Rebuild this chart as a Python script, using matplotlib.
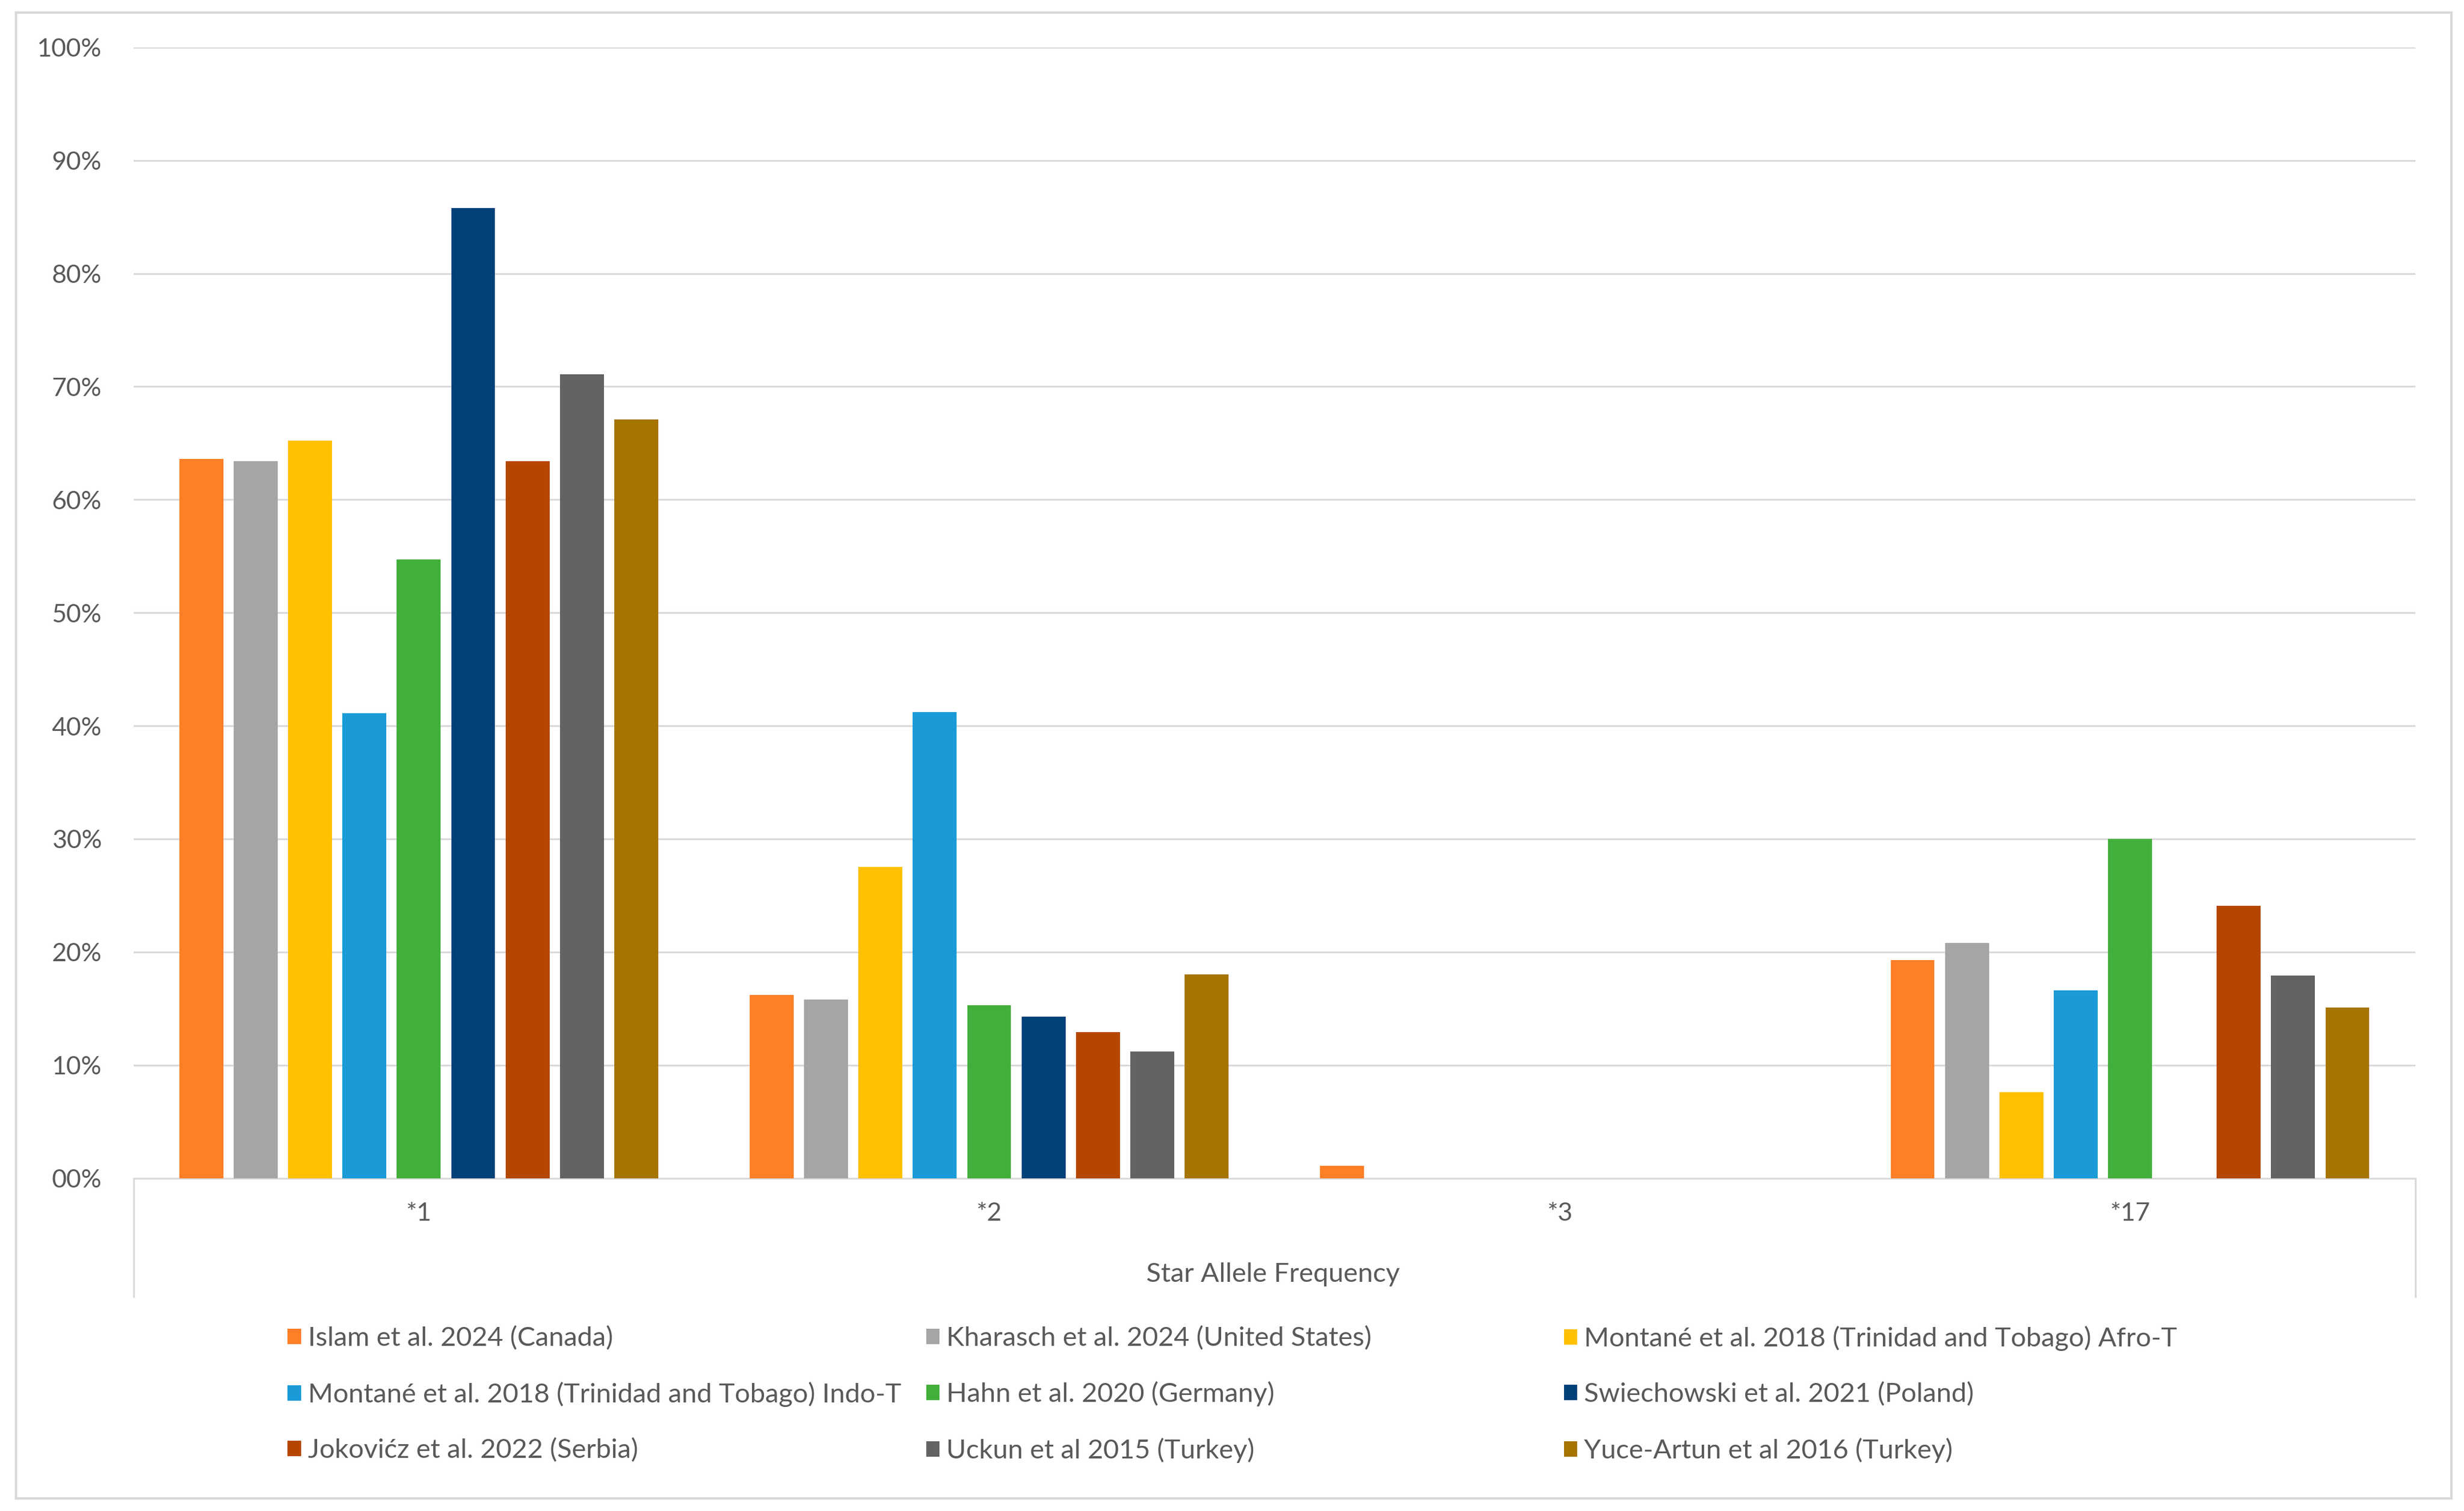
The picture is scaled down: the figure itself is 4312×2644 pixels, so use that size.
import matplotlib
matplotlib.use("Agg")

import numpy as np
import matplotlib.pyplot as plt
from matplotlib.patches import Rectangle, Patch


# -----------------------------
# DANE
# -----------------------------

alleles = ["*1", "*2", "*3", "*17"]

studies = [
    "Islam et al. 2024 (Canada)",
    "Kharasch et al. 2024 (United States)",
    "Montané et al. 2018 (Trinidad and Tobago) Afro-T",
    "Montané et al. 2018 (Trinidad and Tobago) Indo-T",
    "Hahn et al. 2020 (Germany)",
    "Swiechowski et al. 2021 (Poland)",
    "Jokovićz et al. 2022 (Serbia)",
    "Uckun et al 2015 (Turkey)",
    "Yuce-Artun et al 2016 (Turkey)",
]

islam = [63.6, 16.2, 1.1, 19.3]
kharasch = [63.4, 15.8, 0.0, 20.8]
montane_afro = [65.2, 27.5, 0.0, 7.6]
montane_indo = [41.1, 41.2, 0.0, 16.6]
hahn = [54.7, 15.3, 0.0, 30.0]
swiechowski = [85.8, 14.3, 0.0, 0.0]
jokovicz = [63.4, 12.9, 0.0, 24.1]
uckun = [71.1, 11.2, 0.0, 17.9]
yuce_artun = [67.1, 18.0, 0.0, 15.1]

values = [islam, kharasch, montane_afro, montane_indo, hahn,
          swiechowski, jokovicz, uckun, yuce_artun]

colors = ["#FF7F27", "#A5A5A5", "#FFC000", "#1A9BD7", "#43AF3B",
          "#00417A", "#B54600", "#636363", "#A67400"]

ytick_labels = ["00%", "10%", "20%", "30%", "40%", "50%",
                "60%", "70%", "80%", "90%", "100%"]

x_title = "Star Allele Frequency"

# -----------------------------
# STYL
# -----------------------------

plt.rcParams["font.family"] = ["Lato", "DejaVu Sans"]
TXT = "#595959"
GRID = "#D9D9D9"
FS = 16
FS_LEG = 17


fig = plt.figure(figsize=(21.56, 13.22), dpi=200, facecolor="white")

ax = fig.add_axes([0.0542, 0.2203, 0.926, 0.7484])

n = len(studies)
pitch = 0.0953
width = 0.077
x = np.arange(len(alleles))

for i, (name, vals, col) in enumerate(zip(studies, values, colors)):
    ax.bar(
        x + (i - (n - 1) / 2) * pitch,
        vals,
        width,
        color=col,
        label=name,
        zorder=3
    )

ax.set_xlim(-0.5, len(alleles) - 0.5)
ax.set_ylim(0, 100)

ax.set_yticks(np.arange(0, 101, 10))
ax.set_yticklabels(ytick_labels)
ax.set_xticks(x)
ax.set_xticklabels(alleles)

ax.yaxis.grid(True, color=GRID, linewidth=1.1)
ax.set_axisbelow(True)

for s in ["top", "right", "left"]:
    ax.spines[s].set_visible(False)
ax.spines["bottom"].set_color(GRID)
ax.spines["bottom"].set_linewidth(1.1)

ax.tick_params(axis="y", length=0, pad=20, labelcolor=TXT, labelsize=FS)
ax.tick_params(axis="x", length=0, pad=15, labelcolor=TXT, labelsize=FS)

ax.set_xlabel(x_title, color=TXT, fontsize=FS_LEG)
ax.xaxis.set_label_coords(0.4993, -0.0851)
ax.xaxis.label.set_va("center")

# ramka osi kategorii
for xa in [0, 1]:
    ax.plot(
        [xa, xa],
        [0, -0.1046],
        transform=ax.transAxes,
        clip_on=False,
        color=GRID,
        linewidth=1.1
    )

# ramka całego wykresu
fig.add_artist(Rectangle(
    (0.0064, 0.0084),
    0.9885,
    0.9832,
    transform=fig.transFigure,
    fill=False,
    edgecolor=GRID,
    linewidth=1.5
))

# legenda: 3 kolumny o równej szerokości (jak w Excelu)
handles = [Patch(facecolor=c, edgecolor="none") for c in colors]
col_x = [0.1167, 0.3759, 0.6347]

for c, xc in enumerate(col_x):
    leg = fig.legend(
        handles[c::3],
        studies[c::3],
        loc="center left",
        bbox_to_anchor=(xc, 0.0772),
        frameon=False,
        fontsize=FS_LEG,
        handlelength=0.5,
        handleheight=0.5,
        handletextpad=0.25,
        labelspacing=1.15,
        borderpad=0,
        borderaxespad=0
    )
    for t in leg.get_texts():
        t.set_color(TXT)

fig.savefig("out.png", dpi=200, facecolor="white")
